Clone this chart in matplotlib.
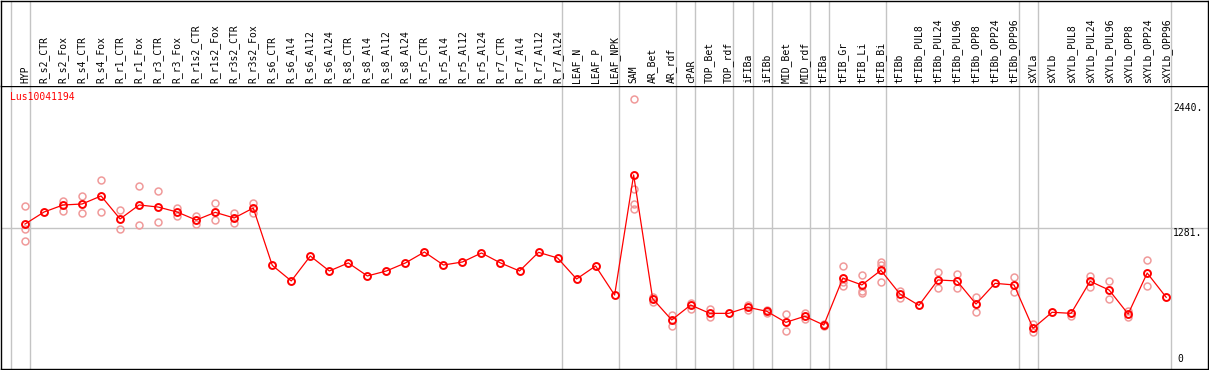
import matplotlib
matplotlib.use("Agg")
import matplotlib.pyplot as plt
from matplotlib.transforms import blended_transform_factory

# ---------------- data ----------------
title = "Lus10041194"
categories = [
    "HYP", "R_s2_CTR", "R_s2_Fox", "R_s4_CTR", "R_s4_Fox", "R_r1_CTR", "R_r1_Fox",
    "R_r3_CTR", "R_r3_Fox", "R_r1s2_CTR", "R_r1s2_Fox", "R_r3s2_CTR", "R_r3s2_Fox",
    "R_s6_CTR", "R_s6_Al4", "R_s6_Al12", "R_s6_Al24", "R_s8_CTR", "R_s8_Al4",
    "R_s8_Al12", "R_s8_Al24", "R_r5_CTR", "R_r5_Al4", "R_r5_Al12", "R_r5_Al24",
    "R_r7_CTR", "R_r7_Al4", "R_r7_Al12", "R_r7_Al24", "LEAF_N", "LEAF_P", "LEAF_NPK",
    "SAM", "AR_Bet", "AR_rdf", "cPAR", "TOP_Bet", "TOP_rdf", "iFIBa", "iFIBb",
    "MID_Bet", "MID_rdf", "tFIBa", "tFIB_Gr", "tFIB_Li", "tFIB_Bi", "tFIBb",
    "tFIBb_PUL8", "tFIBb_PUL24", "tFIBb_PUL96", "tFIBb_OPP8", "tFIBb_OPP24",
    "tFIBb_OPP96", "sXYLa", "sXYLb", "sXYLb_PUL8", "sXYLb_PUL24", "sXYLb_PUL96",
    "sXYLb_OPP8", "sXYLb_OPP24", "sXYLb_OPP96",
]
group_sizes = [1, 28, 3, 3, 1, 2, 1, 1, 2, 1, 3, 7, 1, 7]

means = [
    1320, 1431, 1496, 1505, 1579, 1367, 1496, 1477, 1431, 1357, 1428, 1376, 1468,
    939, 795, 1025, 887, 961, 841, 887, 961, 1062, 942, 970, 1053, 961, 887, 1059,
    1007, 813, 933, 665,
    1773, 631, 435, 573, 496, 496, 552, 515, 413, 469, 388, 822, 758, 893, 675,
    570, 804, 795, 582, 773, 758, 358, 506, 496, 792, 711, 490, 868, 644,
]

replicates = [
    [1487, 1274, 1164], [], [1536, 1443], [1579, 1419], [1724, 1428], [1447, 1277],
    [1668, 1309], [1622, 1339], [1471, 1392], [1397, 1318], [1514, 1357],
    [1425, 1327], [1517, 1425],
    [], [], [], [], [], [], [], [], [], [], [], [], [], [], [], [], [], [], [],
    [2477, 1643, 1502, 1459], [650, 604], [484, 382], [594, 536], [533, 460], [],
    [573, 524], [524, 502], [490, 336], [496, 444], [376, 400], [936, 785, 748],
    [847, 702, 681], [970, 942, 783], [699, 638], [], [878, 733], [859, 727],
    [650, 511], [], [834, 690], [395, 321], [], [474], [843, 742], [795, 628],
    [520, 465], [988, 746], [],
]

y_max_label = 2440
y_mid_label = 1281

# ---------------- layout ----------------
W, H = 1209, 370
fig = plt.figure(figsize=(W / 100, H / 100), dpi=100)
mono = "DejaVu Sans Mono"
fs = 7

px_left, px_right = 1.0, 1208.0
px_header = 85.7
px_bottom = 368.5
col0, colw = 25.0, 19.02

xl = ((px_left - col0) / colw, (px_right - col0) / colw)
ax_left = px_left / W
ax_w = (px_right - px_left) / W
ax = fig.add_axes([ax_left, (H - px_bottom) / H, ax_w, (px_bottom - px_header) / H])
hx = fig.add_axes([ax_left, (H - px_header) / H, ax_w, (px_header - 0.5) / H])

# value scale: y_px = 367.1 - 0.10837*v
k = 0.10837
y0 = 367.1
ax.set_ylim((y0 - px_bottom) / k, (y0 - px_header) / k)
for a in (ax, hx):
    a.set_xlim(*xl)
    a.set_xticks([])
    a.set_yticks([])
    for s in a.spines.values():
        s.set_linewidth(1.0)
        s.set_color("black")
hx.set_ylim(0, 1)
hx.spines["bottom"].set_visible(False)

grid_c = "#c4c4c4"
# group separators
seps = [-0.75]
pos = -1
for g in group_sizes:
    pos += g
    seps.append(pos + 0.25)
for a in (ax, hx):
    for s in seps:
        a.axvline(s, color=grid_c, lw=1.0, zorder=0)
ax.axhline(y_mid_label, color=grid_c, lw=1.0, zorder=0)

# data
xs = list(range(len(categories)))
rep_c = "#f09a9a"
for i, reps in enumerate(replicates):
    if reps:
        ax.plot([i] * len(reps), reps, linestyle="none", marker="o", ms=5,
                mfc="none", mec=rep_c, mew=1.1, zorder=2, clip_on=False)
ax.plot(xs, means, color="red", lw=0.9, zorder=3)
ax.plot(xs, means, linestyle="none", marker="o", ms=5, mfc="none", mec="red",
        mew=1.4, zorder=4)

# header labels
for i, lab in enumerate(categories):
    hx.annotate(lab, xy=(i, 0), xycoords=("data", "axes fraction"),
                xytext=(0, 1.7), textcoords="offset points", rotation=90,
                ha="center", va="bottom", fontsize=fs, family=mono)

# title
ax.annotate(title, xy=(0, 1), xycoords="axes fraction", xytext=(6.5, -8.1),
            textcoords="offset points", ha="left", va="center", color="red",
            fontsize=fs, family=mono)

# right value labels
lx = (1173 - col0) / colw
ax.text(lx, y_max_label, f"{y_max_label}.", ha="left", va="top", fontsize=fs, family=mono)
ax.text(lx, y_mid_label, f"{y_mid_label}.", ha="left", va="top", fontsize=fs, family=mono)
ax.annotate("0", xy=(lx, 0), xycoords="data", xytext=(3, 2), textcoords="offset points",
            ha="left", va="bottom", fontsize=fs, family=mono)

fig.savefig("out.png", dpi=100)
